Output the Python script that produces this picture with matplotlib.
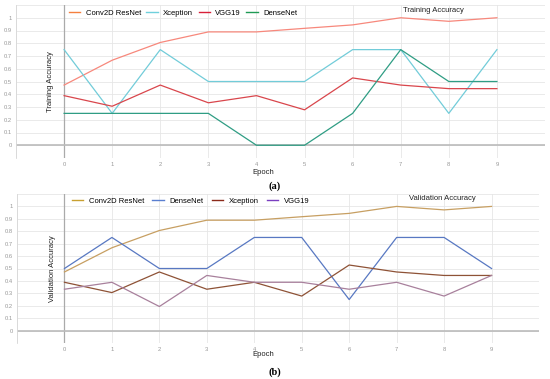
import matplotlib
matplotlib.use("Agg")
import matplotlib.pyplot as plt
from matplotlib.lines import Line2D

plt.rcParams['font.family'] = ['Liberation Sans', 'DejaVu Sans']

epochs = [0, 1, 2, 3, 4, 5, 6, 7, 8, 9]

# (a) Training accuracy
train_resnet = [0.472, 0.667, 0.806, 0.889, 0.889, 0.917, 0.944, 1.0, 0.972, 1.0]
train_xception = [0.75, 0.25, 0.75, 0.5, 0.5, 0.5, 0.75, 0.75, 0.25, 0.75]
train_vgg19 = [0.389, 0.306, 0.472, 0.333, 0.389, 0.278, 0.528, 0.472, 0.444, 0.444]
train_densenet = [0.25, 0.25, 0.25, 0.25, 0.0, 0.0, 0.25, 0.75, 0.5, 0.5]

# (b) Validation accuracy
val_resnet = [0.472, 0.667, 0.806, 0.889, 0.889, 0.917, 0.944, 1.0, 0.972, 1.0]
val_densenet = [0.5, 0.75, 0.5, 0.5, 0.75, 0.75, 0.25, 0.75, 0.75, 0.5]
val_xception = [0.389, 0.306, 0.472, 0.333, 0.389, 0.278, 0.528, 0.472, 0.444, 0.444]
val_vgg19 = [0.333, 0.389, 0.194, 0.444, 0.389, 0.389, 0.333, 0.389, 0.278, 0.444]

ytick_vals = [0, 0.1, 0.2, 0.3, 0.4, 0.5, 0.6, 0.7, 0.8, 0.9, 1.0]
ytick_labels = ['0', '0.1', '0.2', '0.3', '0.4', '0.5', '0.6', '0.7', '0.8', '0.9', '1']

W, H = 550, 379
fig = plt.figure(figsize=(W / 100, H / 100), dpi=100)


def px_rect(l, t, r, b):
    return [l / W, 1 - b / H, (r - l) / W, (b - t) / H]


def style_axes(ax):
    ax.set_xlim(-1, 10)
    ax.set_ylim(-0.1, 1.1)
    ax.set_xticks(range(-1, 11), minor=False)
    ax.set_yticks([v / 10 for v in range(-1, 12)])
    ax.grid(True, color='#e6e6e6', linewidth=0.6)
    ax.set_axisbelow(True)
    for s in ax.spines.values():
        s.set_visible(False)
    ax.spines['left'].set_visible(True)
    ax.spines['left'].set_color('#d8d8d8')
    ax.spines['left'].set_linewidth(0.6)
    ax.tick_params(length=0, labelsize=4.2, labelcolor='#999999', pad=3)
    xt = list(range(-1, 11))
    ax.set_xticklabels([str(v) if 0 <= v <= 9 else '' for v in xt])
    yt = [round(v / 10, 1) for v in range(-1, 12)]
    lab = []
    for v in yt:
        if v in ytick_vals:
            lab.append(ytick_labels[ytick_vals.index(v)])
        else:
            lab.append('')
    ax.set_yticklabels(lab)
    ax.axvline(0, color='#aaaaaa', linewidth=0.9, zorder=1)
    ax.axhline(0, color='#bbbbbb', linewidth=1.2, zorder=1)


# ---- (a) ----
ax1 = fig.add_axes(px_rect(16, 5, 545, 158))
style_axes(ax1)
c_a = ['#f7887c', '#72ccd9', '#d9464c', '#2f9d84']
ax1.plot(epochs, train_resnet, color=c_a[0], lw=0.9, label='Conv2D ResNet')
ax1.plot(epochs, train_xception, color=c_a[1], lw=0.9, label='Xception')
ax1.plot(epochs, train_vgg19, color=c_a[2], lw=0.9, label='VGG19')
ax1.plot(epochs, train_densenet, color=c_a[3], lw=0.9, label='DenseNet')
ax1.text(-0.28, 0.5, 'Training Accuracy', rotation=90, ha='center', va='center',
         fontsize=5.5, color='#222222')
leg1_colors = ['#f5803f', '#6fd0dc', '#d8203a', '#1f9a55']
h1 = [Line2D([], [], color=c, lw=1.0) for c in leg1_colors]
fig.legend(h1, ['Conv2D ResNet', 'Xception', 'VGG19', 'DenseNet'],
           loc='center left', bbox_to_anchor=(65 / W, 1 - 13 / H), ncol=4,
           frameon=False, fontsize=5.5, handlelength=1.5, handletextpad=0.7,
           columnspacing=0.7, borderpad=0)
fig.text(433 / W, 1 - 11 / H, 'Training Accuracy', ha='center', va='center',
         fontsize=5.5, color='#222222')
fig.text(263 / W, 1 - 173 / H, 'Epoch', ha='center', va='center', fontsize=5.5,
         color='#222222')
fig.text(275 / W, 1 - 186 / H, '(a)', ha='center', va='center', fontsize=7.5,
         fontweight='bold', family='Liberation Serif')

# ---- (b) ----
ax2 = fig.add_axes(px_rect(17, 194, 539, 343))
style_axes(ax2)
c_b = ['#c79f62', '#5878c2', '#8e5236', '#a8809c']
ax2.plot(epochs, val_resnet, color=c_b[0], lw=0.9)
ax2.plot(epochs, val_densenet, color=c_b[1], lw=0.9)
ax2.plot(epochs, val_xception, color=c_b[2], lw=0.9)
ax2.plot(epochs, val_vgg19, color=c_b[3], lw=0.9)
ax2.text(-0.25, 0.5, 'Validation Accuracy', rotation=90, ha='center', va='center',
         fontsize=5.5, color='#222222')
leg2_colors = ['#c8a030', '#5a7fd0', '#8b2a1a', '#7a3fc0']
h2 = [Line2D([], [], color=c, lw=1.0) for c in leg2_colors]
fig.legend(h2, ['Conv2D ResNet', 'DenseNet', 'Xception', 'VGG19'],
           loc='center left', bbox_to_anchor=(68 / W, 1 - 201 / H), ncol=4,
           frameon=False, fontsize=5.5, handlelength=1.5, handletextpad=0.7,
           columnspacing=1.1, borderpad=0)
fig.text(442 / W, 1 - 199 / H, 'Validation Accuracy', ha='center', va='center',
         fontsize=5.5, color='#222222')
fig.text(263 / W, 1 - 355 / H, 'Epoch', ha='center', va='center', fontsize=5.5,
         color='#222222')
fig.text(275 / W, 1 - 372 / H, '(b)', ha='center', va='center', fontsize=7.5,
         fontweight='bold', family='Liberation Serif')

fig.savefig('out.png', dpi=100, facecolor='white')
